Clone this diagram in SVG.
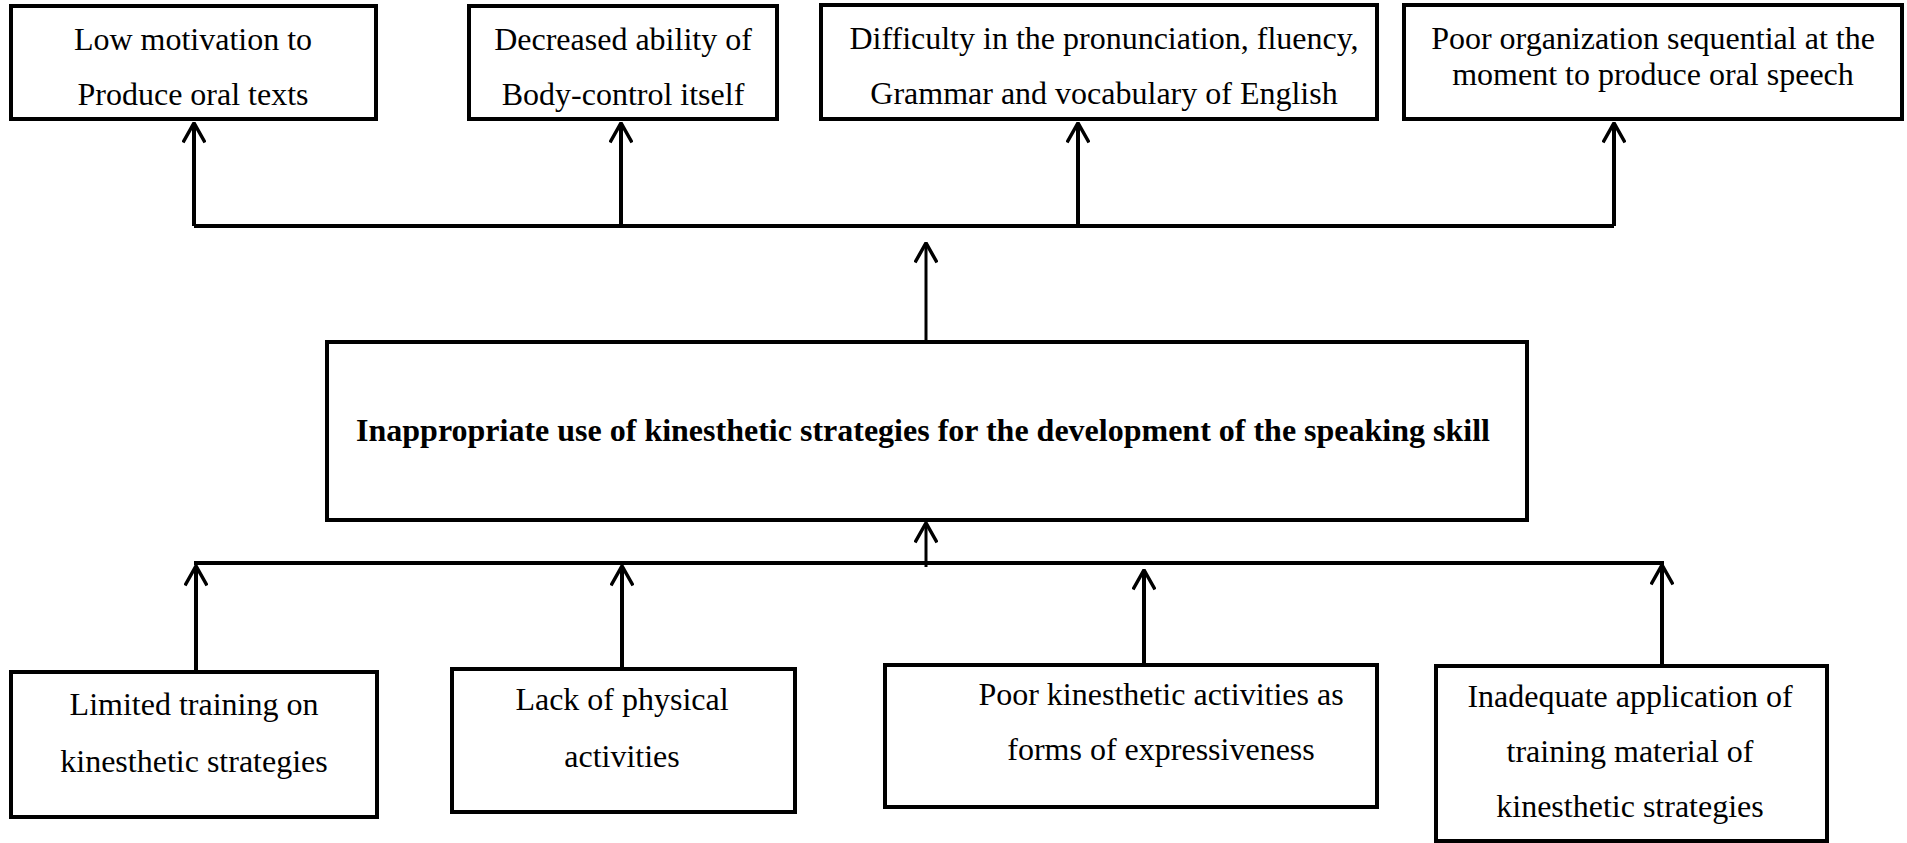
<svg xmlns="http://www.w3.org/2000/svg" width="1907" height="843" viewBox="0 0 1907 843">
  <style>
    .box { fill: #ffffff; stroke: #000000; stroke-width: 4; }
    .lbl { font-family: "Liberation Serif", "Times New Roman", serif; font-size: 32px; fill: #000000; text-anchor: middle; }
    .main { font-weight: bold; }
    .wire { fill: none; stroke: #000000; stroke-width: 4; }
    .thin { fill: none; stroke: #000000; stroke-width: 3; }
  </style>
  <defs>
    <!-- open chevron head, tip at the end of the line -->
    <marker id="head" viewBox="0 0 22 24" refX="20.5" refY="12" markerWidth="22" markerHeight="24" markerUnits="userSpaceOnUse" orient="auto">
      <path d="M1,1 L20.5,12 L1,23" fill="none" stroke="#000000" stroke-width="3.5"/>
    </marker>
  </defs>
  <rect width="1907" height="843" fill="#ffffff"/>

  <!-- connectors -->
  <g id="connectors">
    <!-- upper bus: effects -->
    <path class="wire" d="M194,226 H1614"/>
    <path class="wire" d="M194,226 V123" marker-end="url(#head)"/>
    <path class="wire" d="M621,226 V123" marker-end="url(#head)"/>
    <path class="wire" d="M1078,226 V123" marker-end="url(#head)"/>
    <path class="wire" d="M1614,226 V123" marker-end="url(#head)"/>
    <path class="thin" d="M926,344 V243" marker-end="url(#head)"/>
    <!-- lower bus: causes -->
    <path class="wire" d="M194,563 H1664"/>
    <path class="thin" d="M926,567 V523" marker-end="url(#head)"/>
    <path class="wire" d="M196,670 V566" marker-end="url(#head)"/>
    <path class="wire" d="M622,669 V566" marker-end="url(#head)"/>
    <path class="wire" d="M1144,663 V570" marker-end="url(#head)"/>
    <path class="wire" d="M1662,666 V565" marker-end="url(#head)"/>
  </g>

  <!-- effects -->
  <g id="effect-motivation">
    <rect class="box" x="11" y="6" width="365" height="113"/>
    <text class="lbl" x="193" y="50">Low motivation to</text>
    <text class="lbl" x="193" y="105">Produce oral texts</text>
  </g>
  <g id="effect-body-control">
    <rect class="box" x="469" y="6" width="308" height="113"/>
    <text class="lbl" x="623" y="50">Decreased ability of</text>
    <text class="lbl" x="623" y="105">Body-control itself</text>
  </g>
  <g id="effect-language">
    <rect class="box" x="821" y="5" width="556" height="114"/>
    <text class="lbl" x="1104" y="49">Difficulty in the pronunciation, fluency,</text>
    <text class="lbl" x="1104" y="104">Grammar and vocabulary of English</text>
  </g>
  <g id="effect-organization">
    <rect class="box" x="1404" y="5" width="498" height="114"/>
    <text class="lbl" x="1653" y="49">Poor organization sequential at the</text>
    <text class="lbl" x="1653" y="85">moment to produce oral speech</text>
  </g>

  <!-- central problem -->
  <g id="problem">
    <rect class="box" x="327" y="342" width="1200" height="178"/>
    <text class="lbl main" x="923" y="441">Inappropriate use of kinesthetic strategies for the development of the speaking skill</text>
  </g>

  <!-- causes -->
  <g id="cause-training">
    <rect class="box" x="11" y="672" width="366" height="145"/>
    <text class="lbl" x="194" y="715">Limited training on</text>
    <text class="lbl" x="194" y="772">kinesthetic strategies</text>
  </g>
  <g id="cause-physical">
    <rect class="box" x="452" y="669" width="343" height="143"/>
    <text class="lbl" x="622" y="710">Lack of physical</text>
    <text class="lbl" x="622" y="767">activities</text>
  </g>
  <g id="cause-expressiveness">
    <rect class="box" x="885" y="665" width="492" height="142"/>
    <text class="lbl" x="1161" y="705">Poor kinesthetic activities as</text>
    <text class="lbl" x="1161" y="760">forms of expressiveness</text>
  </g>
  <g id="cause-material">
    <rect class="box" x="1436" y="666" width="391" height="175"/>
    <text class="lbl" x="1630" y="707">Inadequate application of</text>
    <text class="lbl" x="1630" y="762">training material of</text>
    <text class="lbl" x="1630" y="817">kinesthetic strategies</text>
  </g>
</svg>
